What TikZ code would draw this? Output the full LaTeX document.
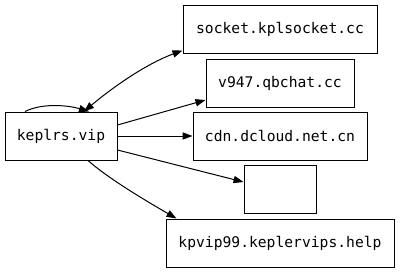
\documentclass[tikz,border=0pt]{standalone}
\usepackage{fontspec}
\setmonofont{DejaVu Sans Mono}
\usetikzlibrary{arrows.meta}
\begin{document}
\begin{tikzpicture}[x=0.75pt,y=-0.75pt,
  box/.style={draw=black,line width=0.75pt,fill=white,minimum height=36pt,inner sep=0pt,font=\ttfamily\fontsize{11}{13}\selectfont},
  gvtip/.tip={Triangle[length=7.5pt,width=5.4pt]},
  edge/.style={draw=black,line width=0.75pt,-{gvtip}}]
\useasboundingbox (0,0) rectangle (400,272);
\node[box,minimum width=84pt] (k) at (61,136) {keplrs.vip};
\node[box,minimum width=145.5pt] (s) at (280,29) {socket.kplsocket.cc};
\node[box,minimum width=111pt] (v) at (280,83) {v947.qbchat.cc};
\node[box,minimum width=130.5pt] (c) at (280,136) {cdn.dcloud.net.cn};
\node[box,minimum width=54pt] (e) at (280,189) {};
\node[box,minimum width=171pt] (p) at (280,243) {kpvip99.keplervips.help};
\draw[edge] ([xshift=-27pt]k.north) .. controls +(18,-9) and +(-20,-6) .. ([xshift=21pt]k.north);
\draw[edge,{gvtip}-{gvtip}] ([xshift=17.25pt]k.north) .. controls +(26,-22) and +(-38,14) .. ([yshift=2.25pt]s.south west);
\draw[edge] ([yshift=8.25pt]k.east) -- ([yshift=-12.75pt]v.west);
\draw[edge] (k.east) -- (c.west);
\draw[edge] ([yshift=-10.5pt]k.east) -- ([yshift=5.25pt]e.west);
\draw[edge] ([xshift=20.25pt]k.south) .. controls +(18,16) and +(-38,-22) .. ([xshift=8.25pt]p.north west);
\end{tikzpicture}
\end{document}
